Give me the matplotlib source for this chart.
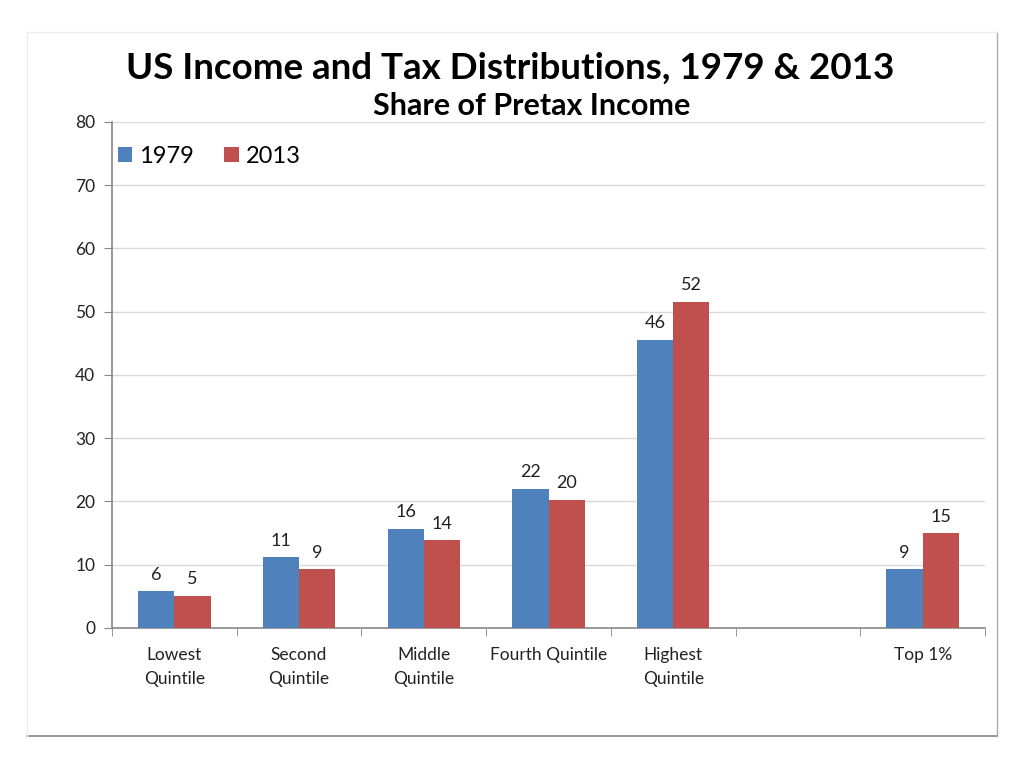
import numpy as np
import matplotlib.pyplot as plt
from matplotlib.lines import Line2D

categories = ["Lowest\nQuintile", "Second\nQuintile", "Middle\nQuintile",
              "Fourth Quintile", "Highest\nQuintile", "", "Top 1%"]
share_1979 = [5.8, 11.2, 15.7, 22.0, 45.6, np.nan, 9.3]
share_2013 = [5.1, 9.3, 13.9, 20.3, 51.6, np.nan, 15.0]
series_names = ["1979", "2013"]
colors = ["#4F81BD", "#C0504D"]

plt.rcParams['font.family'] = ['Lato', 'DejaVu Sans']

fig = plt.figure(figsize=(10.24, 7.68), dpi=100)
ax = fig.add_axes([0.1094, 0.1823, 0.8525, 0.659])

x = np.arange(len(categories))
w = 0.29
for i, (vals, name, c) in enumerate(zip([share_1979, share_2013], series_names, colors)):
    pos = x + (i - 0.5) * w
    ax.bar(pos, vals, width=w, color=c, label=name, zorder=3)
    for p, v in zip(pos, vals):
        if not np.isnan(v):
            ax.annotate(f"{v:.0f}", (p, v), xytext=(0, 6), textcoords="offset points",
                        ha="center", va="bottom", fontsize=13, color="#222222")

ax.set_ylim(0, 80)
ax.set_yticks(range(0, 81, 10))
ax.set_xlim(-0.5, len(categories) - 0.5)
ax.set_xticks(x)
ax.set_xticklabels(categories, fontsize=12.5, color="#222222", linespacing=1.55)
ax.set_xticks(np.arange(-0.5, len(categories), 1), minor=True)
ax.tick_params(axis="x", which="major", length=0, pad=14)
ax.tick_params(axis="x", which="minor", length=6, color="#888888")
ax.tick_params(axis="y", length=6, color="#888888", labelsize=12.5, labelcolor="#222222", pad=6)
ax.grid(axis="y", color="#d9d9d9", linewidth=1, zorder=0)
for s in ["top", "right"]:
    ax.spines[s].set_visible(False)
for s in ["left", "bottom"]:
    ax.spines[s].set_color("#888888")
    ax.spines[s].set_linewidth(1.2)

ax.legend(loc="upper left", bbox_to_anchor=(-0.018, 0.995), ncol=2, frameon=False,
          fontsize=17, handlelength=0.6, handleheight=0.6, handletextpad=0.3,
          columnspacing=1.3)

fig.text(0.498, 0.911, "US Income and Tax Distributions, 1979 & 2013",
         ha="center", va="center", fontsize=26.5, fontweight="bold")
fig.text(0.519, 0.862, "Share of Pretax Income",
         ha="center", va="center", fontsize=22, fontweight="bold")

# slide border
fig.add_artist(Line2D([0.0264, 0.974], [0.0417, 0.0417], color="#888888", lw=1.2))
fig.add_artist(Line2D([0.974, 0.974], [0.0417, 0.958], color="#aaaaaa", lw=1.0))
fig.add_artist(Line2D([0.0264, 0.974], [0.958, 0.958], color="#eeeeee", lw=1.0))
fig.add_artist(Line2D([0.0264, 0.0264], [0.0417, 0.958], color="#eeeeee", lw=1.0))

fig.savefig("out.png", dpi=100)
